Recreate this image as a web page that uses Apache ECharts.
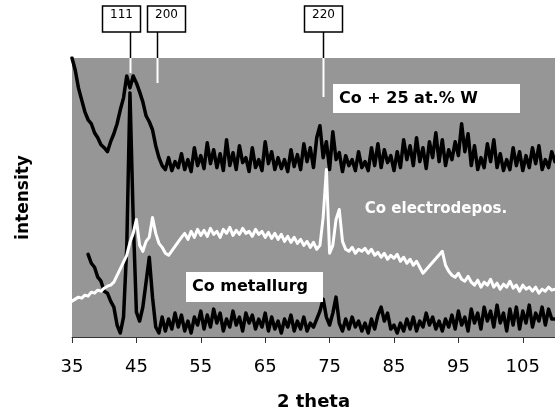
<!DOCTYPE html>
<html lang="en">
  <head>
    <meta charset="UTF-8">
    <title>XRD 2 theta</title>
    <style>
      html, body { margin: 0; padding: 0; background: #fff; }
      #main { width: 555px; height: 419px; }
    </style>
  </head>
  <body>
    <div id="main"></div>
    <script src="https://cdn.jsdelivr.net/npm/echarts@6/dist/echarts.min.js"></script>
    <script type="text/javascript">
      // 2 theta grid, 0.5 deg steps from 35 to 110
      var twoTheta = [];
      for (var t = 35; t <= 110.001; t += 0.5) twoTheta.push(Math.round(t * 10) / 10);

      // intensity (arb. units), one row = 5 deg
      var alloyW = [
        280, 268, 250, 238, 226, 218, 214, 205, 200, 193,
        190, 186, 196, 204, 214, 228, 240, 262, 250, 262,
        255, 246, 236, 222, 216, 208, 192, 180, 172, 168,
        180, 167, 176, 170, 184, 168, 178, 166, 190, 172,
        182, 169, 195, 174, 188, 170, 184, 167, 198, 172,
        185, 168, 192, 175, 180, 166, 190, 170, 178, 167,
        196, 174, 186, 168, 180, 169, 178, 166, 188, 171,
        183, 168, 194, 176, 190, 170, 200, 212, 180, 196,
        168, 206, 178, 185, 166, 182, 172, 178, 167, 186,
        170, 176, 167, 190, 172, 194, 170, 188, 175, 182,
        167, 186, 170, 198, 178, 192, 172, 200, 176, 190,
        169, 196, 180, 205, 176, 198, 172, 188, 178, 196,
        182, 214, 186, 204, 172, 192, 168, 180, 170, 194,
        176, 198, 170, 184, 167, 178, 168, 190, 172, 186,
        167, 182, 170, 190, 174, 192, 168, 178, 170, 186,
        176
      ];

      var electroCo = [
        36, 38, 40, 39, 42, 41, 45, 44, 47, 46,
        49, 51, 52, 55, null, null, null, 82, 95, 104,
        118, 92, 86, 96, 100, 120, 104, 94, 90, 84,
        82, null, null, null, 100, 104, 98, 106, 100, 108,
        102, 107, 101, 109, 103, 106, 100, 108, 104, 110,
        102, 107, 103, 109, 104, 106, 101, 108, 103, 106,
        100, 105, 99, 104, 98, 103, 96, 101, 95, 100,
        94, 98, 92, 96, 90, 95, 88, 92, 120, 168,
        84, 92, 118, 128, 96, 88, 86, 90, 84, 88,
        86, 89, 84, 88, 82, 85, 80, 84, 78, 82,
        79, 83, 76, 80, 74, 78, 72, 76, 70, 64,
        null, null, null, null, null, 86, 72, 66, 62, 60,
        64, 58, 56, 61, 55, 52, 57, 50, 55, 52,
        58, 50, 54, 48, 53, 50, 56, 49, 52, 46,
        52, 48, 50, 46, 50, 44, 48, 46, 50, 47,
        48
      ];

      var metallurgCo = [
        null, null, null, null, null, 83, 74, 70, 60, 56,
        46, 44, 36, 30, 12, 4, 20, 90, 245, 120,
        25, 16, 30, 55, 80, 40, 10, 4, 20, 6,
        18, 8, 24, 10, 22, 6, 16, 4, 20, 12,
        26, 8, 22, 10, 28, 14, 24, 6, 18, 10,
        26, 12, 20, 6, 24, 14, 22, 8, 18, 10,
        24, 6, 20, 8, 16, 4, 18, 10, 22, 6,
        16, 8, 20, 6, 14, 10, 18, 26, 38, 20,
        12, 24, 40, 14, 6, 18, 8, 20, 10, 16,
        6, 14, 4, 18, 8, 22, 30, 16, 24, 8,
        12, 4, 14, 6, 18, 8, 20, 6, 16, 10,
        24, 12, 20, 8, 16, 6, 18, 10, 22, 8,
        26, 12, 20, 6, 28, 14, 24, 8, 30, 16,
        26, 10, 32, 14, 24, 6, 28, 12, 30, 8,
        26, 14, 32, 10, 24, 16, 30, 12, 28, 18,
        18
      ];

      var tickLabels = [35, 45, 55, 65, 75, 85, 95, 105];

      // reflections marked above the plot
      var reflexNames = ['111', '200', '220'];
      var reflexTheta = [44.0, 48.2, 73.9];

      function pairs(vals) {
        return twoTheta.map(function (x, i) { return [x, vals[i]]; });
      }

      var font = 'DejaVu Sans';
      var myChart = echarts.init(document.getElementById('main'));

      var option = {
        animation: false,
        backgroundColor: '#fff',
        grid: {
          left: 72, right: 0, top: 58, bottom: 82,
          show: true, backgroundColor: '#969696', borderWidth: 0
        },
        xAxis: {
          type: 'value', min: 35, max: 110,
          name: '2 theta', nameLocation: 'middle', nameGap: 56,
          nameTextStyle: { fontFamily: font, fontWeight: 'bold', fontSize: 18, color: '#000' },
          axisLine: { lineStyle: { color: '#333', width: 1 } },
          axisTick: { show: true, length: 6, customValues: tickLabels, lineStyle: { color: '#333' } },
          axisLabel: { customValues: tickLabels, fontFamily: font, fontSize: 18, color: '#000', margin: 21 },
          splitLine: { show: false }
        },
        yAxis: {
          type: 'value', min: 0, max: 280,
          name: 'intensity', nameLocation: 'middle', nameGap: 40,
          nameTextStyle: { fontFamily: font, fontWeight: 'bold', fontSize: 17, color: '#000' },
          axisLine: { show: false }, axisTick: { show: false },
          axisLabel: { show: false }, splitLine: { show: false }
        },
        series: [
          {
            name: 'Co + 25 at.% W', type: 'line', data: pairs(alloyW),
            showSymbol: false, connectNulls: true,
            lineStyle: { color: '#000', width: 3.5, join: 'round', cap: 'round' }
          },
          {
            name: 'Co metallurg', type: 'line', data: pairs(metallurgCo),
            showSymbol: false, connectNulls: false,
            lineStyle: { color: '#000', width: 3.5, join: 'round', cap: 'round' }
          },
          {
            name: 'Co electrodepos.', type: 'line', data: pairs(electroCo),
            showSymbol: false, connectNulls: true,
            lineStyle: { color: '#fff', width: 3, join: 'round', cap: 'round' }
          }
        ]
      };
      myChart.setOption(option);

      // reflection markers: box + black stem above, white stem inside the plot
      var boxShift = [-28, -10, -19];
      var whiteDepth = [15, 25, 39];
      var graphics = [];
      reflexTheta.forEach(function (th, i) {
        var px = Math.round(myChart.convertToPixel({ xAxisIndex: 0 }, th)) + 0.5;
        var bx = px + boxShift[i];
        graphics.push({
          type: 'rect', shape: { x: bx, y: 6, width: 38, height: 26 },
          style: { fill: '#fff', stroke: '#000', lineWidth: 1.5 }, z: 100
        });
        graphics.push({
          type: 'text', x: bx + 19, y: 9,
          style: { text: reflexNames[i], fill: '#000', font: '12px "DejaVu Sans"', align: 'center', verticalAlign: 'top' }, z: 101
        });
        graphics.push({
          type: 'line', shape: { x1: px, y1: 32, x2: px, y2: 58 },
          style: { stroke: '#000', lineWidth: 1.5 }, z: 100
        });
        graphics.push({
          type: 'line', shape: { x1: px, y1: 58, x2: px, y2: 58 + whiteDepth[i] },
          style: { stroke: '#fff', lineWidth: 2 }, z: 100
        });
      });

      // series labels
      graphics.push({
        type: 'rect', shape: { x: 333, y: 84, width: 187, height: 29 },
        style: { fill: '#fff' }, z: 100
      });
      graphics.push({
        type: 'text', x: 339, y: 98.5,
        style: { text: 'Co + 25 at.% W', fill: '#000', font: 'bold 16px "DejaVu Sans"', verticalAlign: 'middle' }, z: 101
      });
      graphics.push({
        type: 'text', x: 436, y: 209,
        style: { text: 'Co electrodepos.', fill: '#fff', font: 'bold 15px "DejaVu Sans"', align: 'center', verticalAlign: 'middle' }, z: 101
      });
      graphics.push({
        type: 'rect', shape: { x: 186, y: 272, width: 137, height: 30 },
        style: { fill: '#fff' }, z: 100
      });
      graphics.push({
        type: 'text', x: 192, y: 287,
        style: { text: 'Co metallurg', fill: '#000', font: 'bold 16px "DejaVu Sans"', verticalAlign: 'middle' }, z: 101
      });

      myChart.setOption({ graphic: graphics });
    </script>
  </body>
</html>
